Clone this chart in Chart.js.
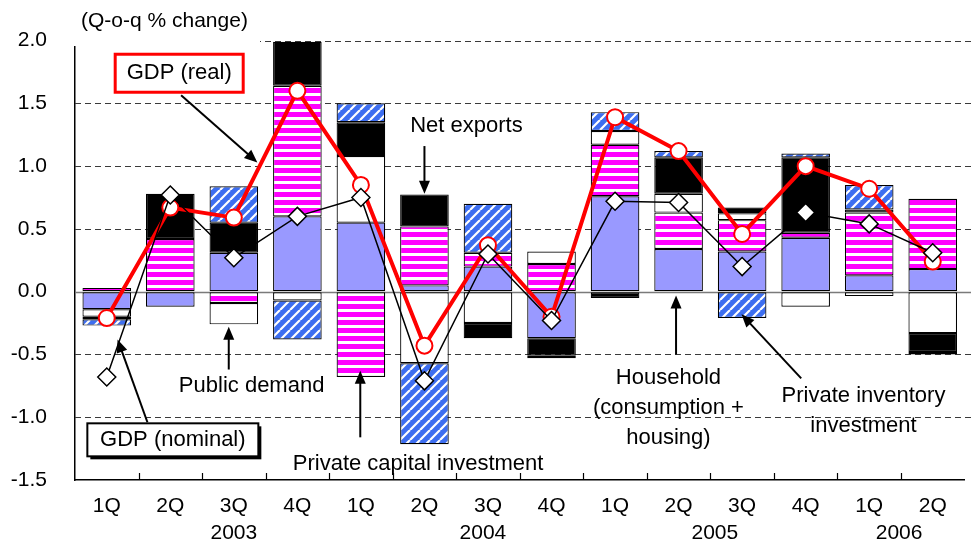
<!DOCTYPE html>
<html>
<head>
<meta charset="utf-8">
<script src="https://cdn.jsdelivr.net/npm/chart.js@4.4.1/dist/chart.umd.min.js"></script>
<style>
  html, body { margin: 0; background: #fff; overflow: hidden; }
  #wrap { width: 971px; height: 550px; overflow: hidden; }
</style>
</head>
<body>
<div id="wrap"><canvas id="chart" width="975" height="550"></canvas></div>
<script>
// Contributions to real GDP growth, q-o-q % change
const quarters = ["1Q", "2Q", "3Q", "4Q", "1Q", "2Q", "3Q", "4Q", "1Q", "2Q", "3Q", "4Q", "1Q", "2Q"]
const years = ["2003", "2004", "2005", "2006"]

const household  = [-0.14, -0.12, 0.31, 0.60, 0.55, 0.05, 0.20, -0.37, 0.76, 0.34, 0.32, 0.43, 0.13, 0.18]
const capitalInv = [0.03, 0.42, -0.09, 1.04, -0.68, 0.47, 0.11, 0.22, 0.41, 0.29, 0.25, 0.04, 0.50, 0.56]
const publicDem  = [-0.06, 0, -0.17, -0.07, 0.53, -0.57, -0.25, 0.10, 0.11, 0.15, 0.055, -0.12, -0.035, -0.33]
const netExports = [-0.02, 0.36, 0.24, 0.35, 0.27, 0.255, -0.12, -0.14, -0.05, 0.29, 0.045, 0.60, 0.025, -0.15]
const inventory  = [-0.05, 0, 0.29, -0.31, 0.15, -0.645, 0.39, -0.02, 0.15, 0.05, -0.21, 0.03, 0.195, -0.02]
const gdpReal    = [-0.21, 0.67, 0.59, 1.60, 0.85, -0.43, 0.37, -0.20, 1.39, 1.12, 0.46, 1.00, 0.82, 0.24]
const gdpNominal = [-0.68, 0.77, 0.27, 0.60, 0.75, -0.71, 0.30, -0.23, 0.72, 0.71, 0.20, 0.63, 0.54, 0.31]

const FONT = '"Liberation Sans", Arial, sans-serif'

// fill patterns
function stripes() {
  const c = document.createElement("canvas")
  c.width = 8; c.height = 8
  const g = c.getContext("2d")
  g.fillStyle = "#fff"; g.fillRect(0, 0, 8, 8)
  g.fillStyle = "#ff00ff"; g.fillRect(0, 0, 8, 5)
  return g.createPattern(c, "repeat")
}
function hatch() {
  const c = document.createElement("canvas")
  c.width = 10; c.height = 10
  const g = c.getContext("2d")
  g.fillStyle = "#3d6ef0"; g.fillRect(0, 0, 10, 10)
  g.strokeStyle = "#fff"; g.lineWidth = 2.2
  g.beginPath()
  for (const o of [-10, 0, 10]) { g.moveTo(o, 10); g.lineTo(o + 10, 0) }
  g.stroke()
  return g.createPattern(c, "repeat")
}

const noZero = arr => arr.map(v => (v === 0 ? null : v))
const barSet = (label, data, fill) => ({
  type: "bar", label, data: noZero(data), backgroundColor: fill,
  borderColor: "#000", borderWidth: 1.2, borderSkipped: false,
  categoryPercentage: 1, barPercentage: 0.765, stack: "s", order: 2
})

// grid lines, x ticks, title, annotations
const decor = {
  id: "decor",
  beforeDatasetsDraw(chart) {
    const { ctx, chartArea: a, scales: { x, y } } = chart
    ctx.save()
    y.ticks.forEach(t => {
      if (t.value <= -1.5) return
      const py = Math.round(y.getPixelForValue(t.value)) + 0.5
      ctx.beginPath()
      if (t.value === 0) {
        ctx.setLineDash([]); ctx.strokeStyle = "#7a7a7a"; ctx.lineWidth = 1.5
      } else {
        ctx.setLineDash([6, 4]); ctx.strokeStyle = "#3a3a3a"; ctx.lineWidth = 1
      }
      ctx.moveTo(a.left, py); ctx.lineTo(chart.width, py); ctx.stroke()
    })
    ctx.setLineDash([]); ctx.strokeStyle = "#000"; ctx.lineWidth = 1.2
    for (let i = 1; i < quarters.length; i++) {
      const px = Math.round(x.getPixelForValue(i - 0.5)) + 0.5
      ctx.beginPath(); ctx.moveTo(px, a.bottom); ctx.lineTo(px, a.bottom - 7); ctx.stroke()
    }
    ctx.restore()
  },
  afterDraw(chart) {
    const { ctx, chartArea: a, scales: { x, y } } = chart
    const P = (i, v) => [x.getPixelForValue(i), y.getPixelForValue(v)]
    ctx.save()

    // years under the quarter labels
    ctx.fillStyle = "#000"; ctx.font = "21px " + FONT
    ctx.textAlign = "center"; ctx.textBaseline = "middle"
    const yearAt = [2.0, 5.92, 9.57, 12.47]
    years.forEach((t, k) => ctx.fillText(t, x.getPixelForValue(yearAt[k]), a.bottom + 53))

    // unit title, white box hides grid/axis behind it
    ctx.fillStyle = "#fff"; ctx.fillRect(70, 4, 190, 42)
    ctx.fillStyle = "#000"; ctx.font = "21px " + FONT; ctx.textAlign = "left"
    ctx.fillText("(Q-o-q % change)", 81, 21)

    const arrow = (i1, v1, i2, v2) => {
      const [x1, y1] = P(i1, v1), [x2, y2] = P(i2, v2)
      const ang = Math.atan2(y2 - y1, x2 - x1), L = 13, H = 5.5
      ctx.strokeStyle = "#000"; ctx.fillStyle = "#000"; ctx.lineWidth = 2
      ctx.beginPath(); ctx.moveTo(x1, y1)
      ctx.lineTo(x2 - Math.cos(ang) * L * 0.8, y2 - Math.sin(ang) * L * 0.8); ctx.stroke()
      ctx.beginPath(); ctx.moveTo(x2, y2)
      ctx.lineTo(x2 - L * Math.cos(ang) + H * Math.sin(ang), y2 - L * Math.sin(ang) - H * Math.cos(ang))
      ctx.lineTo(x2 - L * Math.cos(ang) - H * Math.sin(ang), y2 - L * Math.sin(ang) + H * Math.cos(ang))
      ctx.closePath(); ctx.fill()
    }
    const text = (lines, i, v, step) => {
      const [cx, cy] = P(i, v)
      ctx.fillStyle = "#000"; ctx.font = "22px " + FONT
      ctx.textAlign = "center"; ctx.textBaseline = "middle"
      lines.forEach((t, k) => ctx.fillText(t, cx, cy + k * step))
    }
    const box = (t, i, v, w, h, color, lw, shadow) => {
      const [cx, cy] = P(i, v)
      if (shadow) { ctx.fillStyle = "#000"; ctx.fillRect(cx - w / 2 + 3, cy - h / 2 + 3, w, h) }
      ctx.fillStyle = "#fff"; ctx.fillRect(cx - w / 2, cy - h / 2, w, h)
      ctx.strokeStyle = color; ctx.lineWidth = lw
      ctx.strokeRect(cx - w / 2, cy - h / 2, w, h)
      text([t], i, v, 0)
    }

    arrow(1.17, 1.565, 2.37, 1.03)
    box("GDP (real)", 1.14, 1.74, 128, 38, "#ff0000", 3, false)

    text(["Net exports"], 5.66, 1.32, 0)
    arrow(5.0, 1.16, 5.0, 0.78)

    text(["Public demand"], 2.28, -0.75, 0)
    arrow(1.92, -0.62, 1.92, -0.28)

    arrow(0.64, -1.04, 0.17, -0.38)
    box("GDP (nominal)", 1.04, -1.18, 171, 33, "#000", 2, true)

    text(["Private capital investment"], 4.9, -1.37, 0)
    arrow(3.99, -1.16, 3.99, -0.63)

    text(["Household", "(consumption +", "housing)"], 8.84, -0.69, 30)
    arrow(8.96, -0.5, 8.96, -0.03)

    text(["Private inventory", "investment"], 11.91, -0.83, 30)
    arrow(10.93, -0.69, 9.99, -0.18)

    ctx.restore()
  }
}

new Chart(document.getElementById("chart"), {
  data: {
    labels: quarters,
    datasets: [
      barSet("Household", household, "#9999ff"),
      barSet("Private capital investment", capitalInv, stripes()),
      barSet("Public demand", publicDem, "#ffffff"),
      barSet("Net exports", netExports, "#000000"),
      barSet("Private inventory investment", inventory, hatch()),
      {
        type: "line", label: "GDP (real)", data: gdpReal, order: 1, stack: "real",
        borderColor: "#ff0000", borderWidth: 4, tension: 0,
        pointRadius: 8, pointBorderWidth: 2,
        pointBackgroundColor: "#fff", pointBorderColor: "#ff0000"
      },
      {
        type: "line", label: "GDP (nominal)", data: gdpNominal, order: 0, stack: "nominal",
        borderColor: "#000", borderWidth: 1.5, tension: 0,
        pointStyle: "rectRot", pointRadius: 9, pointBorderWidth: 1.5,
        pointBackgroundColor: "#fff", pointBorderColor: "#000"
      }
    ]
  },
  options: {
    responsive: false,
    animation: false,
    layout: { padding: { top: 32, right: 2, left: 0, bottom: 0 } },
    plugins: { legend: { display: false }, tooltip: { enabled: false } },
    scales: {
      x: {
        stacked: true,
        afterFit: s => { s.height = 70 },
        grid: { display: true, color: "rgba(0,0,0,0)", drawTicks: false },
        border: { display: true, color: "#000", width: 1.5 },
        ticks: { color: "#000", font: { size: 21, family: FONT }, padding: 14, maxRotation: 0, autoSkip: false }
      },
      y: {
        stacked: true,
        min: -1.5, max: 2.0,
        afterFit: s => { s.width = 75 },
        grid: { display: true, color: "rgba(0,0,0,0)", drawTicks: false },
        border: { display: true, color: "#000", width: 1.5 },
        ticks: {
          stepSize: 0.5, color: "#000", padding: 28,
          font: { size: 21, family: FONT },
          callback: v => v.toFixed(1)
        }
      }
    }
  },
  plugins: [decor]
})
</script>
</body>
</html>
